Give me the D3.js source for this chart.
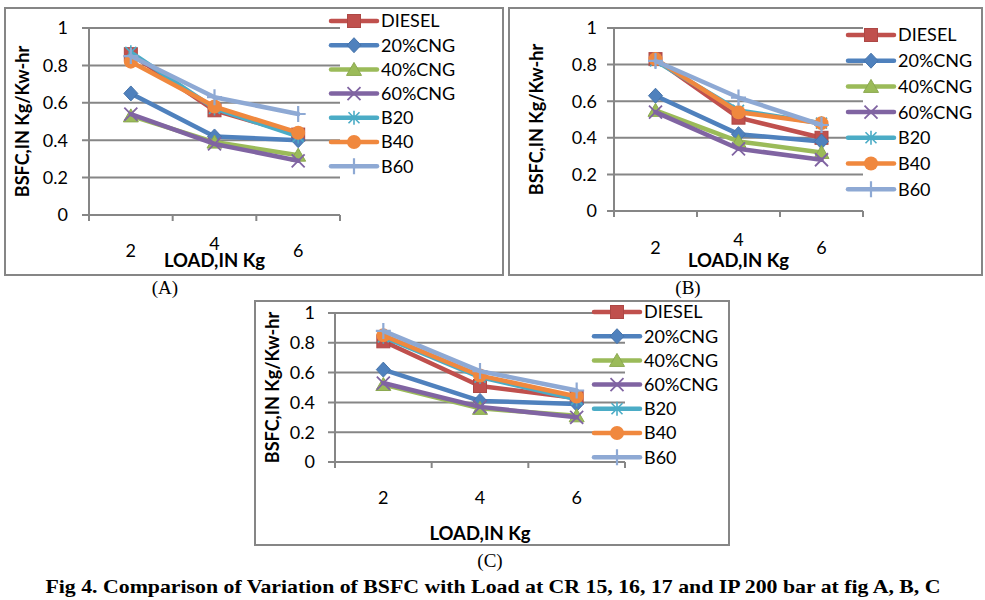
<!DOCTYPE html>
<html><head><meta charset="utf-8">
<script src="https://cdn.jsdelivr.net/npm/d3@7"></script>
<style>html,body{margin:0;padding:0;background:#fff}svg{display:block}</style>
</head><body>
<svg id="chart" width="985" height="600"></svg>
<script>
// ---------- DATA ----------
const loads = ["2", "4", "6"];
const seriesNames = ["DIESEL", "20%CNG", "40%CNG", "60%CNG", "B20", "B40", "B60"];
const yTicks = [0, 0.2, 0.4, 0.6, 0.8, 1];
// rows follow seriesNames, columns follow loads
const bsfcA = [
  [0.86, 0.56, 0.43],
  [0.65, 0.42, 0.40],
  [0.53, 0.39, 0.32],
  [0.54, 0.38, 0.29],
  [0.87, 0.57, 0.42],
  [0.82, 0.58, 0.44],
  [0.85, 0.63, 0.54]
];
const bsfcB = [
  [0.83, 0.51, 0.40],
  [0.63, 0.42, 0.38],
  [0.55, 0.38, 0.32],
  [0.54, 0.34, 0.28],
  [0.82, 0.55, 0.48],
  [0.83, 0.54, 0.48],
  [0.82, 0.62, 0.47]
];
const bsfcC = [
  [0.81, 0.51, 0.43],
  [0.62, 0.41, 0.39],
  [0.52, 0.36, 0.31],
  [0.53, 0.37, 0.30],
  [0.84, 0.57, 0.42],
  [0.85, 0.58, 0.44],
  [0.88, 0.61, 0.48]
];
const xTitle = "LOAD,IN Kg";
const yTitle = "BSFC,IN Kg/Kw-hr";
const caption = "Fig 4. Comparison of Variation of BSFC with Load at CR 15, 16, 17 and IP 200 bar at fig A, B, C";

// ---------- STYLE ----------
const colors = ["#C0504D", "#4F81BD", "#9BBB59", "#8064A2", "#4BACC6", "#F0883E", "#8EA9D4"];
const markers = ["square", "diamond", "triangle", "x", "asterisk", "circle", "plus"];
const GRID = "#868686";
const FONT = "Lato, 'Open Sans', sans-serif";

const panels = [
  { data: bsfcA, label: "(A)", frame: [5, 8, 503, 275], plot: [89, 340, 28, 215],
    legend: { x: 331, y: 21, dy: 24.2 }, yLabGap: 21, yTitleX: 23, xTitleY: 267,
    tickY: 36, midShift: -7, labelPos: [165, 294] },
  { data: bsfcB, label: "(B)", frame: [509, 8, 982, 275], plot: [614, 863, 28, 211],
    legend: { x: 848, y: 35, dy: 25.7 }, yLabGap: 17, yTitleX: 537, xTitleY: 267,
    tickY: 37, midShift: -8, labelPos: [688, 294] },
  { data: bsfcC, label: "(C)", frame: [255, 301, 729, 545], plot: [335, 625, 313, 462],
    legend: { x: 594, y: 312, dy: 24.2 }, yLabGap: 20, yTitleX: 273, xTitleY: 540,
    tickY: 36, midShift: 0, labelPos: [490, 567] }
];

const svg = d3.select("#chart");

function drawMarker(g, type, color) {
  const r = 7;
  if (type === "square") {
    g.append("rect").attr("x", -6.5).attr("y", -6.5).attr("width", 13).attr("height", 13)
      .attr("fill", color).attr("stroke", d3.color(color).darker(0.3)).attr("stroke-width", 1);
  } else if (type === "diamond") {
    g.append("path").attr("d", `M0,${-r - 0.5}L${r},0L0,${r + 0.5}L${-r},0Z`)
      .attr("fill", color).attr("stroke", d3.color(color).darker(0.3)).attr("stroke-width", 1);
  } else if (type === "triangle") {
    g.append("path").attr("d", `M0,-7L7.5,6L-7.5,6Z`)
      .attr("fill", color).attr("stroke", d3.color(color).darker(0.3)).attr("stroke-width", 1);
  } else if (type === "circle") {
    g.append("circle").attr("r", r).attr("fill", color);
  } else if (type === "x") {
    g.append("path").attr("d", "M-6.5,-6.5L6.5,6.5M-6.5,6.5L6.5,-6.5")
      .attr("stroke", color).attr("stroke-width", 1.8).attr("fill", "none");
  } else if (type === "asterisk") {
    g.append("path").attr("d", "M-5.5,-5.5L5.5,5.5M-5.5,5.5L5.5,-5.5M0,-7L0,7")
      .attr("stroke", color).attr("stroke-width", 1.6).attr("fill", "none");
  } else if (type === "plus") {
    g.append("path").attr("d", "M-7.5,0L7.5,0M0,-8L0,8")
      .attr("stroke", color).attr("stroke-width", 2.2).attr("fill", "none");
  }
}

panels.forEach(p => {
  const [fx0, fy0, fx1, fy1] = p.frame;
  const [px0, px1, py0, py1] = p.plot;
  const G = svg.append("g");

  // frame
  G.append("rect").attr("x", fx0).attr("y", fy0).attr("width", fx1 - fx0).attr("height", fy1 - fy0)
    .attr("fill", "#fff").attr("stroke", GRID).attr("stroke-width", 2);

  const x = d3.scaleBand().domain(loads).range([px0, px1]).paddingInner(0).paddingOuter(0);
  const y = d3.scaleLinear().domain([0, 1]).range([py1, py0]);

  // gridlines
  G.append("g").selectAll("line").data(yTicks).join("line")
    .attr("x1", px0 - 7).attr("x2", px1)
    .attr("y1", d => y(d)).attr("y2", d => y(d))
    .attr("stroke", GRID).attr("stroke-width", 2);

  // y axis line
  G.append("line").attr("x1", px0).attr("x2", px0).attr("y1", y(1)).attr("y2", y(0) + 6)
    .attr("stroke", GRID).attr("stroke-width", 2);

  // x axis ticks at band boundaries
  const bounds = loads.map(d => x(d)).concat([px1]);
  G.append("g").selectAll("line").data(bounds).join("line")
    .attr("x1", d => d).attr("x2", d => d).attr("y1", y(0)).attr("y2", y(0) + 6)
    .attr("stroke", GRID).attr("stroke-width", 2);

  // y tick labels
  G.append("g").selectAll("text").data(yTicks).join("text")
    .attr("x", px0 - p.yLabGap).attr("y", d => y(d)).attr("dy", "0.35em")
    .attr("text-anchor", "end").attr("font-family", FONT).attr("font-size", 18).attr("fill", "#000")
    .text(d => d3.format("~g")(d));

  // x tick labels
  G.append("g").selectAll("text").data(loads).join("text")
    .attr("x", d => x(d) + x.bandwidth() / 2)
    .attr("y", (d, i) => y(0) + p.tickY + (i === 1 ? p.midShift : 0)).attr("dy", "0.35em")
    .attr("text-anchor", "middle").attr("font-family", FONT).attr("font-size", 18).attr("fill", "#000")
    .text(d => d);

  // axis titles
  G.append("text").attr("x", (px0 + px1) / 2).attr("y", p.xTitleY)
    .attr("text-anchor", "middle").attr("font-family", FONT).attr("font-weight", "bold")
    .attr("font-size", 18.5).text(xTitle);
  G.append("text").attr("transform", `translate(${p.yTitleX},${(py0 + py1) / 2}) rotate(-90)`)
    .attr("dy", "0.35em").attr("text-anchor", "middle").attr("font-family", FONT)
    .attr("font-weight", "bold").attr("font-size", 18).text(yTitle);

  // series
  const line = d3.line().x((d, i) => x(loads[i]) + x.bandwidth() / 2).y(d => y(d));
  p.data.forEach((vals, si) => {
    const sg = G.append("g");
    sg.append("path").attr("d", line(vals)).attr("fill", "none")
      .attr("stroke", colors[si]).attr("stroke-width", 4.5).attr("stroke-linejoin", "round").attr("stroke-linecap", "round");
    vals.forEach((v, i) => {
      const mg = sg.append("g").attr("transform", `translate(${x(loads[i]) + x.bandwidth() / 2},${y(v)})`);
      drawMarker(mg, markers[si], colors[si]);
    });
  });

  // legend
  const L = G.append("g");
  seriesNames.forEach((name, si) => {
    const ly = p.legend.y + si * p.legend.dy;
    const lx = p.legend.x;
    L.append("line").attr("x1", lx).attr("x2", lx + 46).attr("y1", ly).attr("y2", ly)
      .attr("stroke", colors[si]).attr("stroke-width", 4.5).attr("stroke-linecap", "round");
    const mg = L.append("g").attr("transform", `translate(${lx + 23},${ly})`);
    drawMarker(mg, markers[si], colors[si]);
    L.append("text").attr("x", lx + 50).attr("y", ly).attr("dy", "0.36em")
      .attr("font-family", FONT).attr("font-size", 18).attr("fill", "#000").text(name);
  });

  // panel label
  svg.append("text").attr("x", p.labelPos[0]).attr("y", p.labelPos[1])
    .attr("text-anchor", "middle").attr("font-family", "'Liberation Serif', 'Times New Roman', serif")
    .attr("font-size", 19).text(p.label);
});

svg.append("text").attr("x", 493).attr("y", 593).attr("text-anchor", "middle")
  .attr("font-family", "'Liberation Serif', 'Times New Roman', serif").attr("font-weight", "bold")
  .attr("font-size", 19).attr("textLength", 895).attr("lengthAdjust", "spacingAndGlyphs")
  .text(caption);
</script>
</body></html>
